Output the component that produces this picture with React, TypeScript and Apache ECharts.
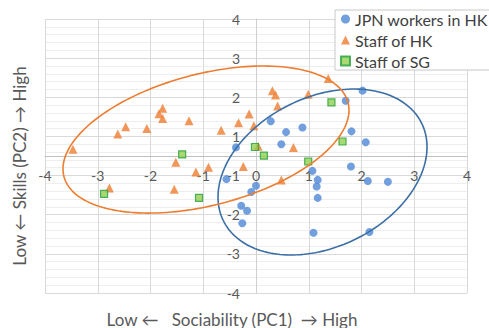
import React, { useEffect, useRef } from "react";
import * as echarts from "echarts";

const seriesNames = ["JPN workers in HK", "Staff of HK", "Staff of SG"];

const jpnWorkersHK: [number, number][] = [
  [-0.38, 0.22], [0.28, 0.89], [0.57, 0.61], [0.88, 0.73], [0.48, 0.3],
  [1.7, 1.41], [2.02, 1.67], [1.81, 0.63], [2.08, 0.35], [1.8, -0.27],
  [1.07, -0.38], [1.17, -0.61], [1.15, -0.78], [1.17, -1.07], [2.12, -0.64],
  [2.5, -0.66], [1.09, -1.96], [2.15, -1.94], [-0.56, -0.59], [0.0, -0.76],
  [-0.09, -0.92], [-0.28, -1.27], [-0.17, -1.4], [-0.26, -1.72],
];

const staffHK: [number, number][] = [
  [-3.47, 0.17], [-2.62, 0.56], [-2.47, 0.75], [-2.07, 0.7], [-1.84, 1.08],
  [-1.77, 1.22], [-1.77, 0.96], [-1.27, 0.9], [-0.66, 0.66], [-0.33, 0.85],
  [-0.13, 1.07], [-0.04, 0.77], [0.04, 0.25], [0.31, 1.67], [0.37, 1.56],
  [0.41, 1.28], [0.71, 0.22], [0.99, 1.58], [1.37, 1.98], [-1.52, -0.16],
  [-0.9, -0.29], [-1.14, -0.41], [-1.55, -0.85], [-2.78, -0.82], [-0.24, -0.27],
  [0.48, -0.61],
];

const staffSG: [number, number][] = [
  [-1.4, 0.04], [-2.88, -0.97], [-1.08, -1.07], [-0.02, 0.23], [0.15, 0.01],
  [0.99, -0.14], [1.43, 1.37], [1.64, 0.37],
];

// confidence ellipses: centre and two conjugate semi-axis vectors (data units)
const hkEllipse = { cx: -0.948, cy: 0.42, ux: 2.711, uy: 0.751, vx: 0, vy: 1.722 };
const jpnEllipse = { cx: 1.261, cy: -0.409, ux: 1.981, uy: 0.639, vx: 0, vy: 2.021 };

const xTicks = { min: -4, max: 4, interval: 1 };
const yTicks = { min: -3.5, max: 3.5, interval: 1 };

const xTitle = "Low \u2190   Sociability (PC1)  \u2192 High";
const yTitle = "Low \u2190 Skills (PC2) \u2192 High";

const FONT = "Lato, 'Noto Sans', sans-serif";
const BLUE = "#4F87D6";
const BLUE_LINE = "#3B6FA5";
const ORANGE = "#ED7D31";
const GREEN = "#92D050";
const GREEN_BORDER = "#24A03A";

const GRID = { left: 45, right: 22, top: 19, bottom: 35, width: 422, height: 274 };

function ellipseSeries(e: typeof hkEllipse, color: string) {
  return {
    type: "custom",
    silent: true,
    data: [[e.cx, e.cy]],
    z: 5,
    renderItem: (_p: any, api: any) => {
      const pts: number[][] = [];
      const n = 180;
      for (let i = 0; i <= n; i++) {
        const t = (i / n) * Math.PI * 2;
        pts.push(
          api.coord([
            e.cx + e.ux * Math.cos(t) + e.vx * Math.sin(t),
            e.cy + e.uy * Math.cos(t) + e.vy * Math.sin(t),
          ])
        );
      }
      return {
        type: "polyline",
        shape: { points: pts },
        style: { stroke: color, lineWidth: 1.6, fill: "none" },
      };
    },
  };
}

export default function App() {
  const ref = useRef<HTMLDivElement>(null);
  useEffect(() => {
    document.body.style.margin = "0";
    const chart = echarts.init(ref.current!, undefined, { renderer: "svg" });
    // place axes where the other axis is zero
    const xZeroOffset = -(GRID.height * (0 - yTicks.min)) / (yTicks.max - yTicks.min);
    const yZeroOffset = -(GRID.width * (0 - xTicks.min)) / (xTicks.max - xTicks.min);
    chart.setOption({
      animation: false,
      backgroundColor: "#ffffff",
      grid: { left: GRID.left, right: GRID.right, top: GRID.top, bottom: GRID.bottom },
      xAxis: {
        type: "value",
        min: xTicks.min,
        max: xTicks.max,
        interval: xTicks.interval,
        position: "bottom",
        offset: xZeroOffset,
        axisLine: { show: true, onZero: false, lineStyle: { color: "#bfbfbf", width: 1 } },
        axisTick: { show: false },
        axisLabel: {
          color: "#595959",
          fontSize: 14,
          fontFamily: FONT,
          margin: 12,
          showMinLabel: true,
          showMaxLabel: true,
        },
        splitLine: { show: true, lineStyle: { color: "#d9d9d9", width: 1 } },
      },
      yAxis: {
        type: "value",
        min: yTicks.min,
        max: yTicks.max,
        interval: yTicks.interval,
        position: "left",
        offset: yZeroOffset,
        axisLine: { show: true, onZero: false, lineStyle: { color: "#d0d0d0", width: 1 } },
        axisTick: { show: false },
        axisLabel: {
          color: "#595959",
          fontSize: 14,
          fontFamily: FONT,
          margin: 16,
          showMinLabel: true,
          showMaxLabel: true,
          formatter: (v: number) => String(v >= 0 ? Math.round(v) : -Math.round(-v)),
        },
        splitLine: { show: true, lineStyle: { color: "#d9d9d9", width: 1 } },
        minorTick: { show: false, splitNumber: 5 },
        minorSplitLine: { show: true, lineStyle: { color: "#eeeeee", width: 1 } },
      },
      legend: {
        data: [
          { name: seriesNames[0], icon: "circle" },
          { name: seriesNames[1], icon: "triangle" },
          { name: seriesNames[2], icon: "rect" },
        ],
        orient: "vertical",
        left: 335,
        top: 10,
        padding: [0, 30, 0, 5],
        itemWidth: 9,
        itemHeight: 9,
        itemGap: 3,
        backgroundColor: "#ffffff",
        borderColor: "#c8c8c8",
        borderWidth: 1,
        borderRadius: 0,
        textStyle: { color: "#404040", fontSize: 16, fontFamily: FONT, lineHeight: 18 },
      },
      graphic: [
        {
          type: "text",
          x: 232,
          y: 319,
          style: {
            text: xTitle,
            fill: "#595959",
            fontSize: 17,
            fontFamily: FONT,
            textAlign: "center",
            textVerticalAlign: "middle",
          },
        },
        {
          type: "text",
          x: 19,
          y: 166,
          rotation: Math.PI / 2,
          style: {
            text: yTitle,
            fill: "#595959",
            fontSize: 17,
            fontFamily: FONT,
            textAlign: "center",
            textVerticalAlign: "middle",
          },
        },
      ],
      series: [
        {
          name: seriesNames[0],
          type: "scatter",
          symbol: "circle",
          symbolSize: 8,
          data: jpnWorkersHK,
          itemStyle: { color: BLUE },
          z: 3,
        },
        {
          name: seriesNames[1],
          type: "scatter",
          symbol: "triangle",
          symbolSize: 9,
          data: staffHK,
          itemStyle: { color: ORANGE },
          z: 3,
        },
        {
          name: seriesNames[2],
          type: "scatter",
          symbol: "rect",
          symbolSize: 7,
          data: staffSG,
          itemStyle: { color: GREEN, borderColor: GREEN_BORDER, borderWidth: 1.2 },
          z: 3,
        },
        ellipseSeries(jpnEllipse, BLUE_LINE),
        ellipseSeries(hkEllipse, ORANGE),
      ],
    });
    return () => chart.dispose();
  }, []);
  return <div ref={ref} style={{ width: 489, height: 328 }} />;
}
